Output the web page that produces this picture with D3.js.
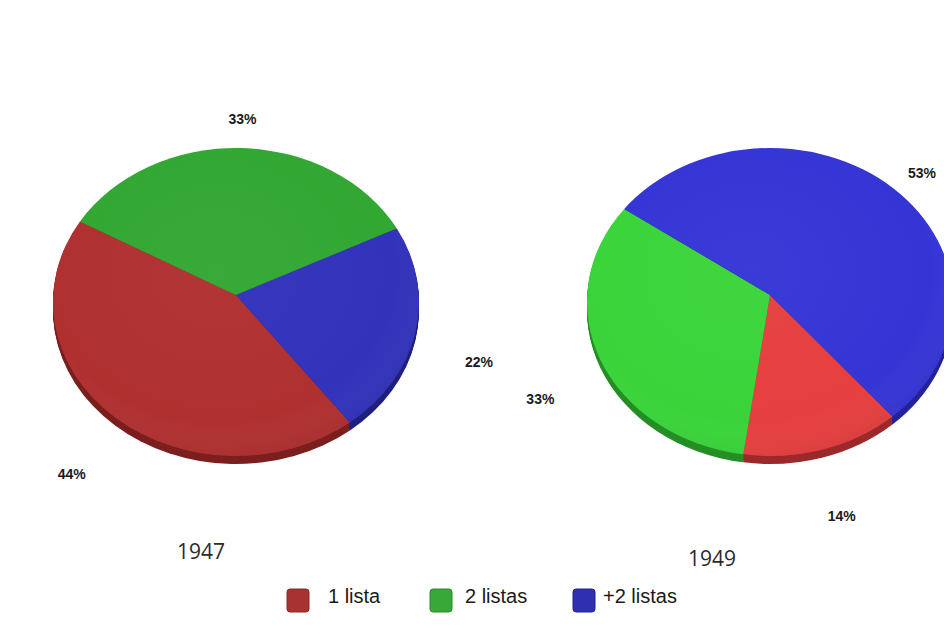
<!DOCTYPE html>
<html><head><meta charset="utf-8">
<script src="https://cdn.jsdelivr.net/npm/d3@7/dist/d3.min.js"></script>
<style>
html,body{margin:0;padding:0;background:#fff;}
svg{display:block;}
</style></head>
<body>
<svg id="chart" width="944" height="634"></svg>
<script>
// ---- data ----
const categories = ["1 lista", "2 listas", "+2 listas"];
const years = ["1947", "1949"];
const values1947 = [44, 33, 22];
const values1949 = [14, 33, 53];
const labels1947 = ["44%", "33%", "22%"];
const labels1949 = ["14%", "33%", "53%"];

// ---- layout & style ----
const W = 944;
const svg = d3.select("#chart");
const deg = Math.PI / 180;
const pies = [
  {year: years[0], values: values1947, labels: labels1947, cx: 236, cy: 302, apexDy: -7, rx: 183, ry: 154,
   start: 141.5 * deg, colors: ["#b03030", "#32a732", "#3232bb"], side: ["#7c1f1f", "#237523", "#20207f"],
   yearX: 201, yearY: 559},
  {year: years[1], values: values1949, labels: labels1949, cx: 770, cy: 302, apexDy: -7, rx: 183, ry: 154,
   start: 138 * deg, colors: ["#e63f3f", "#3ad43a", "#3535d6"], side: ["#9c2a2a", "#258f25", "#24249a"],
   yearX: 712, yearY: 566}
];
const depth = 8;
const labelRx = 248, labelRy = 203, labelDy = 20;

const defs = svg.append("defs");
const shade = defs.append("radialGradient").attr("id", "shade")
  .attr("cx", "45%").attr("cy", "40%").attr("r", "65%");
shade.append("stop").attr("offset", "0%").attr("stop-color", "#fff").attr("stop-opacity", 0.03);
shade.append("stop").attr("offset", "75%").attr("stop-color", "#fff").attr("stop-opacity", 0);
shade.append("stop").attr("offset", "100%").attr("stop-color", "#000").attr("stop-opacity", 0.08);

function ellPt(p, a, dy) {
  return [p.cx + p.rx * Math.sin(a), p.cy - p.ry * Math.cos(a) + (dy || 0)];
}
function slicePath(p, d, dy) {
  const a0 = d.startAngle, a1 = d.endAngle;
  const p0 = ellPt(p, a0, dy), p1 = ellPt(p, a1, dy);
  const large = (a1 - a0) > Math.PI ? 1 : 0;
  return `M${p.cx},${p.cy + p.apexDy + (dy || 0)}L${p0[0]},${p0[1]}` +
         `A${p.rx},${p.ry} 0 ${large} 1 ${p1[0]},${p1[1]}Z`;
}

pies.forEach((p) => {
  const pie = d3.pie().sort(null).value(d => d)
    .startAngle(p.start).endAngle(p.start + 2 * Math.PI);
  const arcs = pie(p.values);
  const g = svg.append("g");
  for (let k = depth; k >= 1; k--) {
    g.selectAll(null).data(arcs).enter().append("path")
      .attr("d", d => slicePath(p, d, k))
      .attr("fill", (d, i) => p.side[i]);
  }
  g.selectAll(null).data(arcs).enter().append("path")
    .attr("d", d => slicePath(p, d, 0))
    .attr("fill", (d, i) => p.colors[i]);
  g.append("ellipse").attr("cx", p.cx).attr("cy", p.cy).attr("rx", p.rx).attr("ry", p.ry)
    .attr("fill", "url(#shade)");
  g.selectAll(null).data(arcs).enter().append("text")
    .attr("x", d => Math.min(W - 22, p.cx + labelRx * Math.sin((d.startAngle + d.endAngle) / 2)))
    .attr("y", d => p.cy + labelDy - labelRy * Math.cos((d.startAngle + d.endAngle) / 2))
    .attr("text-anchor", "middle").attr("dominant-baseline", "central")
    .attr("font-family", "Liberation Sans, Arial, sans-serif")
    .attr("font-weight", "bold").attr("font-size", 14).attr("fill", "#1a1a1a")
    .text((d, i) => p.labels[i]);
  svg.append("text").attr("x", p.yearX).attr("y", p.yearY)
    .attr("text-anchor", "middle")
    .attr("font-family", "Open Sans, sans-serif").attr("font-size", 21).attr("fill", "#2b2b2b")
    .text(p.year);
});

// legend
const legendColors = ["#a83131", "#38a838", "#2f2fb2"];
const legendStroke = ["#8a2a2a", "#2c8a2c", "#24248a"];
const legendSqX = [287, 430, 573];
const legendTxtX = [328, 465, 603];
const lg = svg.append("g");
categories.forEach((c, i) => {
  lg.append("rect").attr("x", legendSqX[i]).attr("y", 589).attr("width", 22).attr("height", 23)
    .attr("rx", 3).attr("fill", legendColors[i]).attr("stroke", legendStroke[i]).attr("stroke-width", 1);
  lg.append("text").attr("x", legendTxtX[i]).attr("y", 603)
    .attr("font-family", "Liberation Sans, Arial, sans-serif").attr("font-size", 20).attr("fill", "#1a1a1a")
    .text(c);
});
</script>
</body></html>
